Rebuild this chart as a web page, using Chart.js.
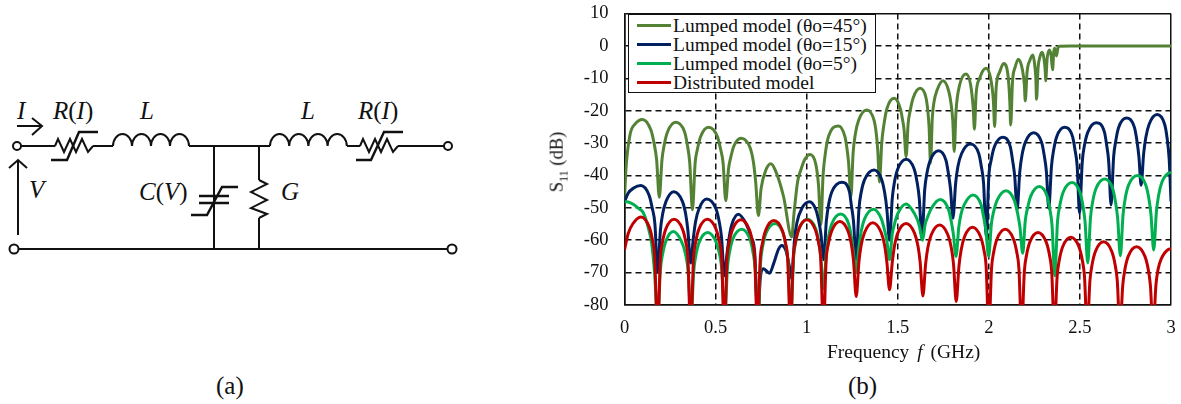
<!DOCTYPE html>
<html>
<head>
<meta charset="utf-8">
<script src="https://cdn.jsdelivr.net/npm/chart.js@4"></script>
<style>
  html, body { margin: 0; padding: 0; background: #fff; }
  body { width: 1181px; height: 404px; position: relative; overflow: hidden; font-family: "Liberation Serif", serif; color: #111; }
  #circuit { position: absolute; left: 0; top: 0; }
  #circuit text { font-family: "Liberation Serif", serif; font-size: 25px; fill: #111; }
  #circuit .it { font-style: italic; }
  #plot { position: absolute; left: 560px; top: 0; width: 621px; height: 345px; }
  #legend { position: absolute; left: 628px; top: 14px; width: 246px; height: 77px; border: 1.5px solid #111; background: #fff; font-size: 19.5px; }
  #legend div { position: absolute; left: 8px; height: 19px; line-height: 19px; white-space: nowrap; }
  #legend i { display: inline-block; width: 34px; height: 3px; margin-right: 2px; vertical-align: 5px; }
  .label { position: absolute; font-size: 19.5px; white-space: nowrap; }
  .caption { position: absolute; font-size: 25px; }
</style>
</head>
<body>

<svg id="circuit" width="500" height="404" fill="none" stroke="#111" stroke-width="2">
  <!-- wires -->
  <path d="M21 146H55M93 146H113M189 146H270M347 146H360M398 146H444M18 249H448M214 146V249M259 146V180M259 218V249"/>
  <circle cx="17" cy="146" r="4"/><circle cx="448" cy="146" r="4"/>
  <circle cx="14" cy="249" r="4.5"/><circle cx="452" cy="249" r="4.5"/>
  <!-- inductors -->
  <path d="M113 146a9.5 12 0 0 1 19 0a9.5 12 0 0 1 19 0a9.5 12 0 0 1 19 0a9.5 12 0 0 1 19 0"/>
  <path d="M270 146a9.6 12 0 0 1 19.2 0a9.6 12 0 0 1 19.2 0a9.6 12 0 0 1 19.2 0a9.6 12 0 0 1 19.2 0"/>
  <!-- nonlinear resistors -->
  <path d="M55 146l3-7 6 13 6-13 6 13 6-13 6 13 5-6" />
  <path d="M51 160H67L79 132H98" stroke-width="2.4"/>
  <path d="M360 146l3-7 6 13 6-13 6 13 6-13 6 13 5-6"/>
  <path d="M356 160H371L384 132H403" stroke-width="2.4"/>
  <!-- shunt G -->
  <path d="M259 180l8 4-16 8 16 8-16 8 16 6-8 4"/>
  <!-- nonlinear C -->
  <path d="M199 196H229M199 203H229" stroke-width="2.4"/>
  <path d="M191 215H207L222 187H238" stroke-width="2.4"/>
  <!-- arrows -->
  <path d="M17 126H41M32 118L42 126L32 135"/>
  <path d="M18 235V160M9 168L18 160L27 168"/>
  <g stroke="none">
    <text x="17" y="119" class="it">I</text>
    <text x="53" y="119"><tspan class="it">R</tspan>(<tspan class="it">I</tspan>)</text>
    <text x="140" y="119" class="it">L</text>
    <text x="301" y="119" class="it">L</text>
    <text x="358" y="119"><tspan class="it">R</tspan>(<tspan class="it">I</tspan>)</text>
    <text x="29" y="198" class="it">V</text>
    <text x="139" y="200"><tspan class="it">C</tspan>(<tspan class="it">V</tspan>)</text>
    <text x="281" y="200" class="it">G</text>
  </g>
</svg>
<div class="caption" style="left:216px;top:372px">(a)</div>
<div class="caption" style="left:848px;top:372px">(b)</div>

<div id="plot"><canvas id="chart"></canvas></div>
<div id="legend"></div>
<div class="label" style="left:827px;top:341px">Frequency <i style="margin:0 3px 0 3px">f</i> (GHz)</div>
<div class="label" style="left:559px;top:162px;font-size:18.5px;transform:translate(-50%,-50%) rotate(-90deg)">S<sub style="font-size:12px">11</sub> (dB)</div>

<script>
const seriesNames = ['Lumped model (θo=45°)', 'Lumped model (θo=15°)', 'Lumped model (θo=5°)', 'Distributed model'];
const seriesColors = ['#548235', '#002060', '#00b050', '#c00000'];
const xTickValues = [0, 0.5, 1, 1.5, 2, 2.5, 3];
const yTickValues = [10, 0, -10, -20, -30, -40, -50, -60, -70, -80];

// values, one lobe per row
const freqDeg45 = [
  0, .008, .03, .06, .098, .145, .162, .176, .191,
  .206, .218, .236, .281, .33, .345, .358, .373,
  .388, .4, .418, .461, .51, .528, .541, .556,
  .571, .583, .6, .64, .69, .708, .72, .735,
  .75, .775, .803, .827, .873, .918,
  .93, .95, .968, .99, 1.019, 1.05, 1.065, 1.078,
  1.09, 1.103, 1.12, 1.175, 1.21, 1.222, 1.23, 1.243,
  1.255, 1.268, 1.285, 1.33, 1.37, 1.382, 1.39, 1.40,
  1.412, 1.425, 1.44, 1.48, 1.515, 1.527, 1.535, 1.546,
  1.557, 1.57, 1.585, 1.623, 1.655, 1.665, 1.672, 1.68,
  1.69, 1.7, 1.715, 1.748, 1.78, 1.793, 1.802, 1.81,
  1.82, 1.84, 1.875, 1.9, 1.914, 1.921,
  1.93, 1.95, 1.984, 2.01, 2.025, 2.032,
  2.04, 2.06, 2.081, 2.105, 2.115, 2.12,
  2.13, 2.145, 2.162, 2.185, 2.195, 2.2,
  2.21, 2.225, 2.241, 2.25, 2.258, 2.262,
  2.27, 2.28, 2.292, 2.303, 2.31, 2.312,
  2.32, 2.332, 2.342, 2.35,
  2.356, 2.361, 2.366, 2.371,
  2.38, 2.387, 2.45, 3
];
const s11Deg45 = [
  -47.5, -38, -27.5, -24, -22.7, -26, -30, -35, -46.7,
  -35, -30.6, -26.6, -23.6, -26.6, -30.6, -36, -50.6,
  -36, -32, -28, -25.1, -28, -32, -36, -47.8,
  -38, -34.5, -31, -28.5, -31.5, -36, -42, -52.4,
  -44, -38.5, -36.4, -38.3, -46.5, -59,
  -52, -42, -38.3, -35, -33.5, -36.5, -43, -55.3,
  -40, -33, -28, -24.7, -28, -32, -36, -46.5,
  -33, -27, -23, -19.8, -23, -27, -32, -42,
  -30, -24, -19.5, -16.2, -19.5, -23, -26, -34.2,
  -24, -19.5, -16, -13.1, -16, -20, -25, -36.2,
  -22, -17, -13.8, -10.8, -14, -18, -23, -32.6,
  -20, -12, -8.7, -12, -19, -25.7,
  -15, -10, -6.9, -10, -17, -24.9,
  -13, -8, -5.4, -9, -17, -24.4,
  -11, -6.5, -4.1, -7.5, -12, -17,
  -8, -4.5, -2.8, -5, -10, -16.5,
  -7, -3.5, -2, -4, -8, -10.8,
  -4, -1.3, -3, -7.4,
  -2, -.7, -1.5, -3.1,
  -.5, -.1, -.05, -.05
];

const freqDeg15 = [
  0, .02, .05, .089, .135, .152, .167, .182,
  .197, .209, .228, .27, .318, .336, .348, .363,
  .378, .39, .409, .451, .502, .52, .533, .548,
  .563, .575, .59, .625, .668, .695, .715, .732,
  .745, .763, .78, .796, .82, .845, .863, .885, .905, .918,
  .933, .946, .975, 1.016, 1.05, 1.066, 1.078, 1.093,
  1.108, 1.12, 1.138, 1.193, 1.235, 1.245, 1.257, 1.272,
  1.287, 1.299, 1.318, 1.37, 1.412, 1.428, 1.44, 1.455,
  1.47, 1.482, 1.5, 1.546, 1.59, 1.606, 1.618, 1.633,
  1.648, 1.66, 1.678, 1.724, 1.765, 1.778, 1.79, 1.803,
  1.818, 1.83, 1.85, 1.898, 1.945, 1.959, 1.971, 1.986,
  2.0, 2.013, 2.03, 2.076, 2.118, 2.13, 2.142, 2.155,
  2.17, 2.182, 2.2, 2.246, 2.29, 2.304, 2.316, 2.329,
  2.344, 2.356, 2.372, 2.415, 2.46, 2.473, 2.485, 2.498,
  2.513, 2.525, 2.543, 2.589, 2.635, 2.647, 2.658, 2.671,
  2.685, 2.697, 2.712, 2.755, 2.8, 2.813, 2.824, 2.836,
  2.85, 2.862, 2.88, 2.924, 2.965, 2.978, 2.99, 3
];
const s11Deg15 = [
  -48.1, -45.5, -43.9, -43.1, -46.1, -50, -55, -70,
  -57, -52, -48, -45, -48, -52, -57, -67,
  -59.3, -54.3, -50.3, -47.3, -50.3, -54.3, -59.3, -71,
  -64, -59, -55, -52, -55, -59, -64, -85,
  -72, -68.8, -69.5, -70.2, -67, -62.8, -61.6, -63, -68, -72,
  -60, -54.7, -50, -48.1, -50.5, -54, -58, -66,
  -54.1, -49.1, -45.1, -42.1, -45.1, -49.1, -54.1, -66,
  -50.3, -45.3, -41.3, -38.3, -41.3, -45.3, -50.3, -60,
  -47, -42, -38, -35, -38, -42, -47, -59.4,
  -44.4, -39.4, -35.4, -32.4, -35.4, -39.4, -44.4, -53.2,
  -42.3, -37.3, -33.3, -30.3, -33.3, -37.3, -42.3, -58.9,
  -40.2, -35.2, -31.2, -28.2, -31.2, -35.2, -40.2, -50.6,
  -38.8, -33.8, -29.8, -26.8, -29.8, -33.8, -38.8, -50.1,
  -37.1, -32.1, -28.1, -25.1, -28.1, -32.1, -37.1, -51.7,
  -35.7, -30.7, -26.7, -23.7, -26.7, -30.7, -35.7, -49.1,
  -34.3, -29.3, -25.3, -22.3, -25.3, -29.3, -34.3, -43,
  -33.2, -28.2, -24.2, -21.2, -24.2, -28.2, -35, -48
];

const freqDeg5 = [
  0, .02, .05, .08, .103, .13, .149, .165, .182,
  .197, .209, .227, .268, .312, .335, .35, .365,
  .38, .392, .41, .457, .503, .523, .535, .55,
  .565, .577, .595, .644, .688, .705, .717, .732,
  .747, .759, .777, .827, .87, .886, .898, .913,
  .928, .94, .958, 1.004, 1.05, 1.066, 1.078, 1.093,
  1.108, 1.12, 1.138, 1.187, 1.23, 1.245, 1.257, 1.272,
  1.287, 1.299, 1.318, 1.367, 1.41, 1.428, 1.44, 1.455,
  1.47, 1.482, 1.5, 1.546, 1.592, 1.61, 1.62, 1.636,
  1.651, 1.663, 1.682, 1.733, 1.778, 1.793, 1.805, 1.82,
  1.835, 1.847, 1.865, 1.913, 1.957, 1.972, 1.984, 1.999,
  2.014, 2.027, 2.045, 2.094, 2.14, 2.158, 2.171, 2.186,
  2.2, 2.213, 2.23, 2.277, 2.32, 2.335, 2.347, 2.362,
  2.377, 2.39, 2.408, 2.457, 2.5, 2.516, 2.528, 2.543,
  2.558, 2.57, 2.588, 2.636, 2.68, 2.695, 2.707, 2.722,
  2.737, 2.749, 2.767, 2.816, 2.862, 2.878, 2.89, 2.905,
  2.92, 2.932, 2.95, 2.985, 3
];
const s11Deg5 = [
  -48.1, -48.2, -49, -50.3, -51.5, -56, -61, -70, -85,
  -69.3, -64.3, -60.3, -57.3, -60.3, -64.3, -70, -85,
  -69.6, -64.6, -60.6, -57.6, -60.6, -64.6, -69.6, -85,
  -68.6, -63.6, -59.6, -56.6, -59.6, -63.6, -68.6, -85,
  -66.8, -61.8, -57.8, -54.8, -57.8, -61.8, -66.8, -85,
  -65.5, -60.5, -56.5, -53.5, -56.5, -60.5, -65.5, -75,
  -63.9, -58.9, -54.9, -51.9, -54.9, -58.9, -63.9, -70,
  -62, -57.4, -53.4, -50.4, -53.4, -57, -60, -66,
  -58, -55, -51.8, -48.8, -51.8, -54, -56, -60,
  -55, -53, -50.4, -47.4, -50.4, -54, -58, -65,
  -56, -52, -49, -46, -49, -53, -57, -65,
  -55, -51, -47.7, -44.7, -47.7, -51.7, -56, -64,
  -54, -50, -46.4, -43.4, -46.4, -50.4, -55.4, -71,
  -54.2, -49.2, -45.2, -42.2, -45.2, -49.2, -54.2, -67,
  -53.1, -48.1, -44.1, -41.1, -44.1, -48.1, -53.1, -64.8,
  -52, -47, -43, -40, -43, -47, -52, -63,
  -51.1, -46.1, -42.1, -39.3, -39.1
];

const freqDist = [
  0, .02, .045, .09, .135, .153, .165, .182,
  .197, .209, .227, .272, .318, .336, .348, .363,
  .379, .391, .409, .455, .502, .521, .533, .548,
  .563, .575, .593, .639, .685, .703, .715, .73,
  .745, .757, .775, .82, .866, .884, .896, .911,
  .926, .938, .956, 1.001, 1.047, 1.065, 1.077, 1.092,
  1.107, 1.119, 1.137, 1.182, 1.227, 1.245, 1.257, 1.272,
  1.287, 1.299, 1.318, 1.363, 1.409, 1.428, 1.44, 1.455,
  1.47, 1.482, 1.5, 1.546, 1.592, 1.611, 1.623, 1.638,
  1.653, 1.665, 1.684, 1.73, 1.775, 1.794, 1.806, 1.821,
  1.836, 1.848, 1.866, 1.91, 1.955, 1.973, 1.985, 2.0,
  2.015, 2.027, 2.045, 2.09, 2.135, 2.153, 2.165, 2.18,
  2.195, 2.207, 2.225, 2.27, 2.315, 2.333, 2.345, 2.36,
  2.375, 2.387, 2.405, 2.45, 2.495, 2.513, 2.525, 2.54,
  2.555, 2.567, 2.585, 2.63, 2.675, 2.693, 2.705, 2.72,
  2.735, 2.747, 2.765, 2.811, 2.857, 2.875, 2.887, 2.902,
  2.917, 2.929, 2.947, 2.985, 3
];
const s11Dist = [
  -63, -58, -55, -52.8, -55.8, -59.8, -64.8, -88,
  -65.5, -60.5, -56.5, -53.5, -56.5, -60.5, -65.5, -88,
  -65.5, -60.5, -56.5, -53.5, -56.5, -60.5, -65.5, -88,
  -65.7, -60.7, -56.7, -53.7, -56.7, -60.7, -65.7, -88,
  -65.9, -60.9, -56.9, -53.9, -56.9, -60.9, -65.9, -88,
  -65.7, -60.7, -56.7, -53.7, -56.7, -60.7, -65.7, -88,
  -66.2, -61.2, -57.2, -54.2, -57.2, -61.2, -66.2, -77.4,
  -66.6, -61.6, -57.6, -54.6, -57.6, -61.6, -66.6, -75.3,
  -66.8, -61.8, -57.8, -54.8, -57.8, -61.8, -66.8, -77.2,
  -67.3, -62.3, -58.3, -55.3, -58.3, -62.3, -67.3, -78.9,
  -68, -63, -59, -56, -59, -63, -68, -88,
  -68.6, -63.6, -59.6, -56.6, -59.6, -63.6, -68.6, -88,
  -69.6, -64.6, -60.6, -57.6, -60.6, -64.6, -69.6, -88,
  -71.1, -66.1, -62.1, -59.1, -62.1, -66.1, -71.1, -88,
  -72.5, -67.5, -63.5, -60.5, -63.5, -67.5, -72.5, -88,
  -74, -69, -65, -62, -65, -69, -74, -88,
  -74, -69, -65.7, -62.9, -62.7
];

const toPoints = (xs, ys) => xs.map((x, i) => ({ x: x, y: ys[i] }));
const seriesPoints = [
  toPoints(freqDeg45, s11Deg45),
  toPoints(freqDeg15, s11Deg15),
  toPoints(freqDeg5, s11Deg5),
  toPoints(freqDist, s11Dist)
];

// legend box sits on top of the plot, same as in the figure
document.getElementById('legend').innerHTML = seriesNames.map((name, i) =>
  `<div style="top:${i * 19.3 + 0.5}px"><i style="background:${seriesColors[i]}"></i>${name}</div>`
).join('');

new Chart(document.getElementById('chart'), {
  type: 'line',
  data: {
    datasets: seriesNames.map((name, i) => ({
      label: name,
      data: seriesPoints[i],
      borderColor: seriesColors[i],
      backgroundColor: 'transparent',
      borderWidth: 3,
      pointRadius: 0,
      cubicInterpolationMode: 'monotone',
      order: seriesNames.length - i   // red ends up on top
    }))
  },
  options: {
    responsive: true,
    maintainAspectRatio: false,
    animation: false,
    layout: { padding: { top: 13.5, right: 10 } },
    plugins: { legend: { display: false }, tooltip: { enabled: false } },
    scales: {
      x: {
        type: 'linear',
        min: 0,
        max: 3,
        afterBuildTicks: axis => { axis.ticks = xTickValues.map(v => ({ value: v })); },
        // tick padding would otherwise eat into the plot area
        afterFit: axis => { axis.height = 40; axis.paddingLeft = 0; axis.paddingRight = 0; },
        ticks: {
          color: '#111',
          padding: 12,
          maxRotation: 0,
          font: { family: 'Liberation Serif', size: 18.5 },
          callback: v => String(v)
        },
        grid: { color: '#111', lineWidth: 1.5, drawTicks: false },
        border: {
          color: '#111',
          width: 1.5,
          dash: ctx => (ctx.tick && (ctx.tick.value === 0 || ctx.tick.value === 3) ? [] : [6, 4])
        }
      },
      y: {
        min: -80,
        max: 10,
        afterBuildTicks: axis => { axis.ticks = yTickValues.map(v => ({ value: v })); },
        afterFit: axis => { axis.width = 64.5; axis.paddingTop = 0; axis.paddingBottom = 0; },
        ticks: {
          color: '#111',
          padding: 16,
          font: { family: 'Liberation Serif', size: 18.5 },
          callback: v => String(v)
        },
        grid: { color: '#111', lineWidth: 1.5, drawTicks: false },
        border: {
          color: '#111',
          width: 1.5,
          dash: ctx => (ctx.tick && (ctx.tick.value === 10 || ctx.tick.value === -80) ? [] : [6, 4])
        }
      }
    }
  }
});
</script>
</body>
</html>
